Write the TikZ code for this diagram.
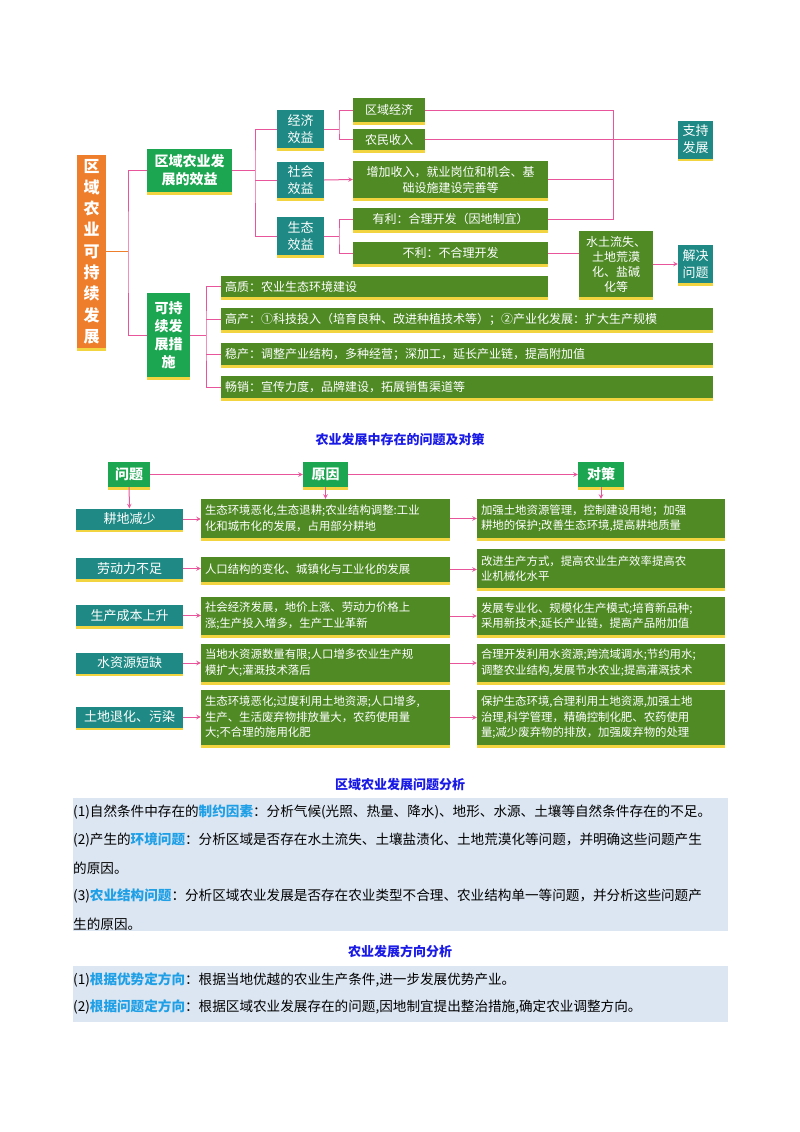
\documentclass[tikz,border=0pt]{standalone}
\usepackage{fontspec}
\setmainfont{Noto Sans CJK SC}
\XeTeXlinebreaklocale "zh"
\XeTeXlinebreakskip=0pt plus 1pt
\usetikzlibrary{shadows}
\definecolor{gb}{HTML}{4F8A25}
\definecolor{tl}{HTML}{1F8A85}
\definecolor{hg}{HTML}{1DA651}
\definecolor{og}{HTML}{EF7E2C}
\definecolor{pk}{HTML}{E8559A}
\definecolor{sh}{HTML}{F2D340}
\definecolor{bl}{HTML}{1A1AE6}
\definecolor{cy}{HTML}{1E9FE6}
\definecolor{bg}{HTML}{DCE6F2}
\tikzset{
 base/.style={inner sep=2pt, text=white, align=center, drop shadow={fill=sh, shadow xshift=0pt, shadow yshift=-2.5pt, opacity=1}},
 gbox/.style={base, fill=gb, font=\fontsize{12}{16}\selectfont},
 tbox/.style={base, fill=tl, font=\fontsize{13}{17}\selectfont},
 hbox/.style={base, fill=hg, font=\fontsize{14}{18}\selectfont\bfseries},
 obox/.style={base, fill=og, font=\fontsize{16}{21.3}\selectfont\bfseries},
 lbox/.style={gbox, align=left, anchor=west, inner sep=0pt},
 con/.style={draw=pk, line width=1pt},
 arr/.style={con, -stealth},
 ttl/.style={text=bl, font=\fontsize{13}{16}\selectfont\bfseries},
 body/.style={anchor=west, inner sep=0pt, font=\fontsize{13.6}{16}\selectfont},
}
\newcommand{\hl}[1]{\textcolor{cy}{\bfseries #1}}
\begin{document}
\begin{tikzpicture}[x=1pt,y=-1pt]
\useasboundingbox (0,0) rectangle (800,1132);
% ===== top
\node[obox, minimum width=29, minimum height=193, inner sep=0pt] (root) at (91.5,251.5) {区\\域\\农\\业\\可\\持\\续\\发\\展};
\node[hbox, minimum width=85, minimum height=43] (ben) at (189.5,170.5) {区域农业发\\展的效益};
\node[hbox, minimum width=43, minimum height=84] (mea) at (168.5,335) {可持\\续发\\展措\\施};
\node[tbox, minimum width=47, minimum height=38] (jj) at (300.5,129) {经济\\效益};
\node[tbox, minimum width=47, minimum height=36] (sh) at (300.5,180) {社会\\效益};
\node[tbox, minimum width=47, minimum height=38] (st) at (300.5,236) {生态\\效益};
\node[gbox, minimum width=72, minimum height=24] (qy) at (389,110) {区域经济};
\node[gbox, minimum width=72, minimum height=21] (nm) at (389,139.5) {农民收入};
\node[gbox, minimum width=195, minimum height=37] (zj) at (450.5,179.5) {增加收入，就业岗位和机会、基\\础设施建设完善等};
\node[gbox, minimum width=195, minimum height=22] (yl) at (450.5,219) {有利：合理开发（因地制宜）};
\node[gbox, minimum width=195, minimum height=22] (bl) at (450.5,253) {不利：不合理开发};
\node[gbox, minimum width=74, minimum height=66, font=\fontsize{12}{15}\selectfont] (stls) at (616,264) {水土流失、\\土地荒漠\\化、盐碱\\化等};
\node[tbox, minimum width=35, minimum height=38, inner sep=1pt] (zc) at (695.5,139.5) {支持\\发展};
\node[tbox, minimum width=35, minimum height=38, inner sep=1pt] (jv) at (695.5,264) {解决\\问题};
\node[lbox, minimum height=21, text width=327] (m1) at (221,286.5) {\hspace{4pt}高质：农业生态环境建设};
\node[lbox, minimum height=22, text width=492] (m2) at (221,319) {\hspace{4pt}高产：①科技投入（培育良种、改进种植技术等）；②产业化发展：扩大生产规模};
\node[lbox, minimum height=22, text width=492] (m3) at (221,354) {\hspace{4pt}稳产：调整产业结构，多种经营；深加工，延长产业链，提高附加值};
\node[lbox, minimum height=22, text width=492] (m4) at (221,387) {\hspace{4pt}畅销：宣传力度，品牌建设，拓展销售渠道等};
\coordinate (b0) at (128,0); \coordinate (b1) at (255,0); \coordinate (b2) at (339,0);
\coordinate (b3) at (613,0); \coordinate (b4) at (206,0);
\draw[draw=og, line width=1pt] (root.east) -- (root.east -| b0);
\draw[con] (ben.west) -| (b0 |- root.east) |- (mea.west);
\draw[con] (ben.east) -- (ben.east -| b1);
\draw[con] (jj.west) -| (b1 |- ben.east) |- (st.west);
\draw[con] (sh.west) -- (sh.west -| b1);
\draw[con] (qy.west) -| (b2 |- jj.east) |- (nm.west);
\draw[con] (jj.east) -- (jj.east -| b2);
\draw[arr] (sh.east) -- (zj.west);
\draw[con] (yl.west) -| (b2 |- st.east) |- (bl.west);
\draw[con] (st.east) -- (st.east -| b2);
\draw[con] (qy.east) -| (b3 |- yl.east) -- (yl.east);
\draw[con] (zj.east) -- (zj.east -| b3);
\draw[con] (nm.east) -- (zc.west);
\draw[con] (bl.east) -- (bl.east -| stls.west);
\draw[arr] (stls.east) -- (jv.west);
\draw[con] (mea.east) -- (mea.east -| b4);
\draw[con] (m1.west) -| (b4 |- mea.east) |- (m4.west);
\draw[con] (m2.west) -- (m2.west -| b4);
\draw[con] (m3.west) -- (m3.west -| b4);
% ===== middle
\node[ttl] (t1) at (400,440) {农业发展中存在的问题及对策};
\node[hbox, minimum width=42, minimum height=25] (wt) at (129,474.5) {问题};
\node[hbox, minimum width=45, minimum height=25] (yy) at (325.5,474.5) {原因};
\node[hbox, minimum width=46, minimum height=25] (dc) at (601,474.5) {对策};
\draw[arr] (wt) -- (yy); \draw[arr] (yy) -- (dc);
\tikzset{pb/.style={tbox, minimum width=107, minimum height=21}, cb/.style={gbox, text width=241, inner xsep=4pt, align=left, font=\fontsize{11.4}{15.5}\selectfont}, rb/.style={cb, text width=240}}
\node[pb] (p1) at (129.5,519) {耕地减少};
\node[pb] (p2) at (129.5,568.5) {劳动力不足};
\node[pb] (p3) at (129.5,615.5) {生产成本上升};
\node[pb] (p4) at (129.5,663) {水资源短缺};
\node[pb] (p5) at (129.5,717) {土地退化、污染};
\node[cb, minimum height=39] (c1) at (325.5,518.5) {生态环境恶化,生态退耕;农业结构调整:工业\\化和城市化的发展，占用部分耕地};
\node[cb, minimum height=25] (c2) at (325.5,569.5) {人口结构的变化、城镇化与工业化的发展};
\node[cb, minimum height=38] (c3) at (325.5,616) {社会经济发展，地价上涨、劳动力价格上\\涨;生产投入增多，生产工业革新};
\node[cb, minimum height=38] (c4) at (325.5,663) {当地水资源数量有限;人口增多农业生产规\\模扩大;灌溉技术落后};
\node[cb, minimum height=55] (c5) at (325.5,717.5) {生态环境恶化;过度利用土地资源;人口增多,\\生产、生活废弃物排放量大，农药使用量\\大;不合理的施用化肥};
\node[rb, minimum height=39] (r1) at (601,518.5) {加强土地资源管理，控制建设用地；加强\\耕地的保护;改善生态环境,提高耕地质量};
\node[rb, minimum height=39] (r2) at (601,568.5) {改进生产方式，提高农业生产效率提高农\\业机械化水平};
\node[rb, minimum height=38] (r3) at (601,616) {发展专业化、规模化生产模式;培育新品种;\\采用新技术;延长产业链，提高产品附加值};
\node[rb, minimum height=38] (r4) at (601,663) {合理开发利用水资源;跨流域调水;节约用水;\\调整农业结构,发展节水农业;提高灌溉技术};
\node[rb, minimum height=55] (r5) at (601,717.5) {保护生态环境,合理利用土地资源,加强土地\\治理,科学管理，精确控制化肥、农药使用\\量;减少废弃物的排放，加强废弃物的处理};
\draw[arr] (wt) -- (p1); \draw[arr] (yy) -- (c1); \draw[arr] (dc) -- (r1);
\foreach \i in {1,...,5}{\draw[arr] (p\i.east) -- (p\i.east -| c\i.west); \draw[arr] (c\i.east) -- (c\i.east -| r\i.west);}
% ===== bottom
\node[ttl] (t2) at (400,785) {区域农业发展问题分析};
\fill[bg] (73,798) rectangle (728,931);
\node[body] (l1) at (73,812) {(1)自然条件中存在的\hl{制约因素}：分析气候(光照、热量、降水)、地形、水源、土壤等自然条件存在的不足。};
\node[body] (l2) at (73,840) {(2)产生的\hl{环境问题}：分析区域是否存在水土流失、土壤盐渍化、土地荒漠化等问题，并明确这些问题产生};
\node[body] (l3) at (73,868) {的原因。};
\node[body] (l4) at (73,896) {(3)\hl{农业结构问题}：分析区域农业发展是否存在农业类型不合理、农业结构单一等问题，并分析这些问题产};
\node[body] (l5) at (73,924) {生的原因。};
\node[ttl] (t3) at (400,951) {农业发展方向分析};
\fill[bg] (73,966) rectangle (728,1022);
\node[body] (l6) at (73,980) {(1)\hl{根据优势定方向}：根据当地优越的农业生产条件,进一步发展优势产业。};
\node[body] (l7) at (73,1007) {(2)\hl{根据问题定方向}：根据区域农业发展存在的问题,因地制宜提出整治措施,确定农业调整方向。};
\end{tikzpicture}
\end{document}
